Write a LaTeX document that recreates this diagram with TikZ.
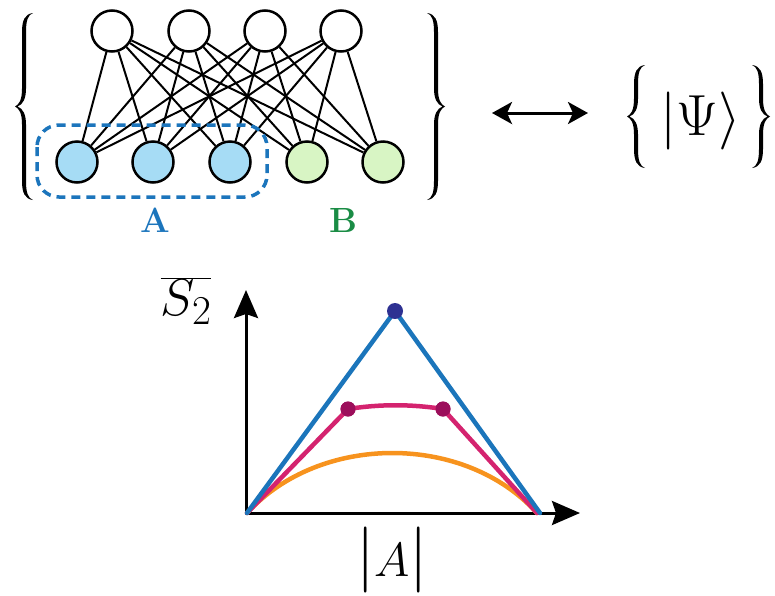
\RequirePackage{fix-cm}
\documentclass[tikz,border=0pt]{standalone}
\usetikzlibrary{arrows.meta}
\definecolor{nodeblue}{HTML}{A6DCF5}
\definecolor{nodegreen}{HTML}{D8F5C4}
\definecolor{boxblue}{HTML}{1C75BC}
\definecolor{labgreen}{HTML}{1A8C45}
\definecolor{lineblue}{HTML}{1B75BB}
\definecolor{linered}{HTML}{D4236F}
\definecolor{lineorange}{HTML}{F7931E}
\definecolor{dotblue}{HTML}{2E3192}
\definecolor{dotred}{HTML}{9C0E5B}
% curly brace drawn as a filled shape: tip x, tip y, half height, direction (1 = opens right, -1 = opens left)
\newcommand{\curlybrace}[4]{%
  \begin{scope}[shift={(#1,#2)},xscale=#4]
    \fill[black] (18,-#3) .. controls (10,-#3+1) and (7,-#3+7) .. (7,-#3+19)
      -- (7,-18) .. controls (7,-6) and (4,-2) .. (0,0)
      .. controls (4,2) and (7,6) .. (7,18)
      -- (7,#3-19) .. controls (7,#3-7) and (10,#3-1) .. (18,#3)
      .. controls (13,#3-2) and (11,#3-7) .. (11,#3-19)
      -- (11,18) .. controls (11,8) and (8,2) .. (2.5,0)
      .. controls (8,-2) and (11,-8) .. (11,-18)
      -- (11,-#3+19) .. controls (11,-#3+7) and (13,-#3+2) .. (18,-#3) -- cycle;
  \end{scope}}
\begin{document}
\begin{tikzpicture}[x=1pt,y=-1pt,
  hid/.style={circle,draw=black,line width=2.5pt,fill=white,minimum size=41pt,inner sep=0pt},
  visA/.style={hid,fill=nodeblue},
  visB/.style={hid,fill=nodegreen},
  edge/.style={line width=2pt,black},
  groupbox/.style={draw=boxblue,line width=3.5pt,dash pattern=on 9pt off 6pt,rounded corners=22pt},
  axisline/.style={line width=3pt,black,-{Stealth[length=28pt,width=24pt,inset=4pt]}},
  curve/.style={line width=4.5pt,line cap=round,line join=round},
  dot/.style={circle,inner sep=0pt,minimum size=15pt},
  sublabel/.style={font=\fontsize{35}{38}\selectfont\bfseries,inner sep=0pt}
]
\useasboundingbox (0,0) rectangle (775,595);

% hidden and visible units
\node[hid] (h1) at (112,31) {};
\node[hid] (h2) at (189,31) {};
\node[hid] (h3) at (265,31) {};
\node[hid] (h4) at (341,31) {};
\node[visA] (v1) at (77,162) {};
\node[visA] (v2) at (153,162) {};
\node[visA] (v3) at (230,162) {};
\node[visB] (v4) at (307,162) {};
\node[visB] (v5) at (383,162) {};
\foreach \h in {1,...,4}
  \foreach \v in {1,...,5}
    \draw[edge] (h\h) -- (v\v);

% subsystem A box
\draw[groupbox] (37,125) rectangle (267,197);
\node[sublabel,text=boxblue] (labA) at (155,220) {A};
\node[sublabel,text=labgreen] (labB) at (343,220) {B};

% big braces around the network
\curlybrace{15}{106.5}{93.5}{1}
\curlybrace{445}{106.5}{93.5}{-1}

% double arrow
\coordinate (arrL) at (492,113);
\coordinate (arrR) at (588,113);
\draw[line width=3pt,{Stealth[length=20pt,width=22pt,inset=5pt]}-{Stealth[length=20pt,width=22pt,inset=5pt]}] (arrL) -- (arrR);

% state set
\curlybrace{627}{116.5}{51.5}{1}
\curlybrace{770}{116.5}{51.5}{-1}
\node[inner sep=0pt] (psi) at (701,121) {{\fontsize{58}{60}\selectfont$|$}{\fontsize{58}{60}\selectfont$\Psi$}{\fontsize{58}{60}\selectfont$\rangle$}};

% plot
\coordinate (O) at (246,513);
\coordinate (ytip) at (246,290);
\coordinate (xtip) at (580,513);
\draw[axisline] (246,514.5) -- (ytip);
\draw[axisline] (244.5,513) -- (xtip);

\draw[curve,lineorange] (247,513) .. controls (320,433) and (465,433) .. (537,513);
\node[dot,fill=dotred] (r1) at (348,409) {};
\node[dot,fill=dotred] (r2) at (443,409) {};
\draw[curve,linered] (247,513) -- (r1.center) .. controls (380,404) and (411,404) .. (r2.center) -- (537,513);
\draw[curve,lineblue] (247,513) -- (395,311) -- (540,513);
\node[dot,fill=dotblue,minimum size=16pt] (peak) at (395,311) {};
\node[dot,fill=dotred] at (r1) {};
\node[dot,fill=dotred] at (r2) {};

% axis labels
\node[inner sep=0pt,font=\fontsize{52}{60}\selectfont] (ylab) at (186,301) {$\overline{S_{\mbox{\fontsize{41}{44}\selectfont 2}}}$};
\node[inner sep=0pt] (xlab) at (392,560) {{\fontsize{66}{70}\selectfont$|$}{\fontsize{48}{58}\selectfont$A$}{\fontsize{66}{70}\selectfont$|$}};
\end{tikzpicture}
\end{document}
